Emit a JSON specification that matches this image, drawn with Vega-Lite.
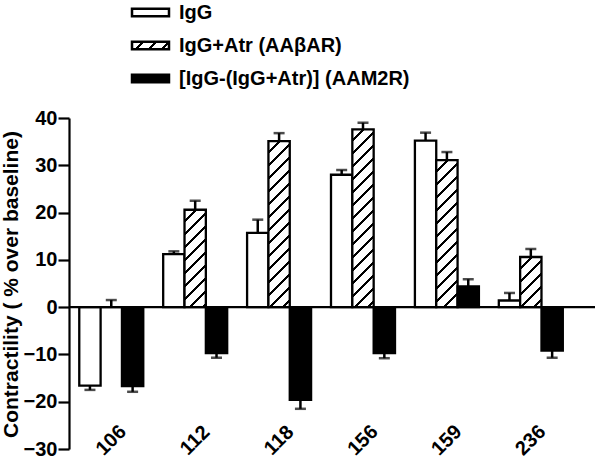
{
  "$schema": "https://vega.github.io/schema/vega-lite/v6.json",
  "autosize": {"type": "none"},
  "padding": {"left": 69, "top": 118, "right": 5, "bottom": 13},
  "width": 526,
  "height": 331,
  "background": "white",
  "params": [
    {"name": "hatch", "value": [
      {"offset": 0, "color": "#fff"},
      {"offset": 0.04875, "color": "#fff"}, {"offset": 0.04875, "color": "#000"}, {"offset": 0.0625, "color": "#000"}, {"offset": 0.0625, "color": "#fff"},
      {"offset": 0.11125, "color": "#fff"}, {"offset": 0.11125, "color": "#000"}, {"offset": 0.125, "color": "#000"}, {"offset": 0.125, "color": "#fff"},
      {"offset": 0.17375, "color": "#fff"}, {"offset": 0.17375, "color": "#000"}, {"offset": 0.1875, "color": "#000"}, {"offset": 0.1875, "color": "#fff"},
      {"offset": 0.23625, "color": "#fff"}, {"offset": 0.23625, "color": "#000"}, {"offset": 0.25, "color": "#000"}, {"offset": 0.25, "color": "#fff"},
      {"offset": 0.29875, "color": "#fff"}, {"offset": 0.29875, "color": "#000"}, {"offset": 0.3125, "color": "#000"}, {"offset": 0.3125, "color": "#fff"},
      {"offset": 0.36125, "color": "#fff"}, {"offset": 0.36125, "color": "#000"}, {"offset": 0.375, "color": "#000"}, {"offset": 0.375, "color": "#fff"},
      {"offset": 0.42375, "color": "#fff"}, {"offset": 0.42375, "color": "#000"}, {"offset": 0.4375, "color": "#000"}, {"offset": 0.4375, "color": "#fff"},
      {"offset": 0.48625, "color": "#fff"}, {"offset": 0.48625, "color": "#000"}, {"offset": 0.5, "color": "#000"}, {"offset": 0.5, "color": "#fff"},
      {"offset": 0.54875, "color": "#fff"}, {"offset": 0.54875, "color": "#000"}, {"offset": 0.5625, "color": "#000"}, {"offset": 0.5625, "color": "#fff"},
      {"offset": 0.61125, "color": "#fff"}, {"offset": 0.61125, "color": "#000"}, {"offset": 0.625, "color": "#000"}, {"offset": 0.625, "color": "#fff"},
      {"offset": 0.67375, "color": "#fff"}, {"offset": 0.67375, "color": "#000"}, {"offset": 0.6875, "color": "#000"}, {"offset": 0.6875, "color": "#fff"},
      {"offset": 0.73625, "color": "#fff"}, {"offset": 0.73625, "color": "#000"}, {"offset": 0.75, "color": "#000"}, {"offset": 0.75, "color": "#fff"},
      {"offset": 0.79875, "color": "#fff"}, {"offset": 0.79875, "color": "#000"}, {"offset": 0.8125, "color": "#000"}, {"offset": 0.8125, "color": "#fff"},
      {"offset": 0.86125, "color": "#fff"}, {"offset": 0.86125, "color": "#000"}, {"offset": 0.875, "color": "#000"}, {"offset": 0.875, "color": "#fff"},
      {"offset": 0.92375, "color": "#fff"}, {"offset": 0.92375, "color": "#000"}, {"offset": 0.9375, "color": "#000"}, {"offset": 0.9375, "color": "#fff"},
      {"offset": 0.98625, "color": "#fff"}, {"offset": 0.98625, "color": "#000"}, {"offset": 1, "color": "#000"}
    ]}
  ],
  "data": {"values": [
    {"group": "106", "series": "IgG", "value": -16.6, "end": -17.5},
    {"group": "106", "series": "IgG+Atr (AAβAR)", "value": 0, "end": 1.5},
    {"group": "106", "series": "[IgG-(IgG+Atr)] (AAM2R)", "value": -16.7, "end": -17.9},
    {"group": "112", "series": "IgG", "value": 11.2, "end": 11.8},
    {"group": "112", "series": "IgG+Atr (AAβAR)", "value": 20.6, "end": 22.5},
    {"group": "112", "series": "[IgG-(IgG+Atr)] (AAM2R)", "value": -9.7, "end": -10.7},
    {"group": "118", "series": "IgG", "value": 15.7, "end": 18.5},
    {"group": "118", "series": "IgG+Atr (AAβAR)", "value": 35.1, "end": 36.8},
    {"group": "118", "series": "[IgG-(IgG+Atr)] (AAM2R)", "value": -19.6, "end": -21.5},
    {"group": "156", "series": "IgG", "value": 28.0, "end": 29.0},
    {"group": "156", "series": "IgG+Atr (AAβAR)", "value": 37.6, "end": 39.0},
    {"group": "156", "series": "[IgG-(IgG+Atr)] (AAM2R)", "value": -9.7, "end": -10.8},
    {"group": "159", "series": "IgG", "value": 35.2, "end": 36.9},
    {"group": "159", "series": "IgG+Atr (AAβAR)", "value": 31.1, "end": 32.8},
    {"group": "159", "series": "[IgG-(IgG+Atr)] (AAM2R)", "value": 4.4, "end": 5.9},
    {"group": "236", "series": "IgG", "value": 1.4, "end": 3.0},
    {"group": "236", "series": "IgG+Atr (AAβAR)", "value": 10.6, "end": 12.3},
    {"group": "236", "series": "[IgG-(IgG+Atr)] (AAM2R)", "value": -9.2, "end": -10.7}
  ]},
  "encoding": {
    "x": {
      "field": "group", "type": "nominal",
      "scale": {"domain": ["106", "112", "118", "156", "159", "236"], "paddingInner": 0.2372, "paddingOuter": 0.253, "align": 0.242},
      "axis": null
    }
  },
  "layer": [
    {
      "mark": {"type": "bar", "stroke": "black", "strokeWidth": 2.3, "opacity": 1},
      "encoding": {
        "xOffset": {
          "field": "series", "type": "nominal",
          "scale": {"domain": ["IgG", "IgG+Atr (AAβAR)", "[IgG-(IgG+Atr)] (AAM2R)"]}
        },
        "y": {
          "field": "value", "type": "quantitative",
          "scale": {"domain": [-30, 40], "nice": false},
          "axis": {
            "title": "Contractility ( % over baseline)",
            "values": [-30, -20, -10, 0, 10, 20, 30, 40],
            "grid": false,
            "domainColor": "black", "domainWidth": 2.2,
            "tickColor": "black", "tickWidth": 2.2, "tickSize": 11,
            "labelPadding": 1, "labelFont": "Liberation Sans", "labelFontSize": 20, "labelFontWeight": "bold", "labelColor": "black",
            "titleFont": "Liberation Sans", "titleFontSize": 21, "titleFontWeight": "bold", "titleColor": "black",
            "titleAngle": -90, "titleBaseline": "alphabetic", "titleAlign": "center", "titleX": -52, "titleY": 166
          }
        },
        "fill": {
          "field": "series", "type": "nominal",
          "scale": {
            "domain": ["IgG", "IgG+Atr (AAβAR)", "[IgG-(IgG+Atr)] (AAM2R)"],
            "range": ["white", {"expr": "{gradient: 'linear', x1: 0, y1: 0, x2: 5.405, y2: 1.081, stops: hatch}"}, "black"]
          },
          "condition": [
            {"test": "datum.series === 'IgG+Atr (AAβAR)' && datum.group === '112'", "value": {"expr": "{gradient: 'linear', x1: 0, y1: 0, x2: 0.4463, y2: 2.038, stops: hatch}"}},
            {"test": "datum.series === 'IgG+Atr (AAβAR)' && datum.group === '118'", "value": {"expr": "{gradient: 'linear', x1: 0, y1: 0, x2: 0.1584, y2: 1.2327, stops: hatch}"}},
            {"test": "datum.series === 'IgG+Atr (AAβAR)' && datum.group === '156'", "value": {"expr": "{gradient: 'linear', x1: 0, y1: 0, x2: 0.1384, y2: 1.1532, stops: hatch}"}},
            {"test": "datum.series === 'IgG+Atr (AAβAR)' && datum.group === '159'", "value": {"expr": "{gradient: 'linear', x1: 0, y1: 0, x2: 0.2008, y2: 1.3849, stops: hatch}"}},
            {"test": "datum.series === 'IgG+Atr (AAβAR)' && datum.group === '236'", "value": {"expr": "{gradient: 'linear', x1: 0, y1: 0, x2: 1.4964, y2: 3.5146, stops: hatch}"}},
            {"test": "datum.series === 'IgG+Atr (AAβAR)'", "value": "white"}
          ],
          "legend": {
            "orient": "none", "legendX": 71, "legendY": -116, "direction": "vertical",
            "title": null,
            "symbolType": "M-2,-0.4H2V0.4H-2Z", "symbolSize": 342,
            "symbolStrokeColor": "black", "symbolStrokeWidth": 2.5, "symbolOpacity": 1,
            "labelFont": "Liberation Sans", "labelFontSize": 20, "labelFontWeight": "bold", "labelColor": "black",
            "labelLimit": 0, "labelOffset": 18, "rowPadding": 12
          }
        }
      }
    },
    {
      "mark": {"type": "rule", "color": "black", "strokeWidth": 2.5},
      "encoding": {
        "xOffset": {"field": "series", "type": "nominal"},
        "y": {"field": "value", "type": "quantitative"},
        "y2": {"field": "end"}
      }
    },
    {
      "mark": {"type": "tick", "color": "black", "size": 11, "thickness": 2.5, "orient": "horizontal"},
      "encoding": {
        "xOffset": {"field": "series", "type": "nominal"},
        "y": {"field": "end", "type": "quantitative"}
      }
    },
    {
      "data": {"values": [{}]},
      "mark": {"type": "rule", "color": "black", "strokeWidth": 2.2},
      "encoding": {"x": null, "y": {"datum": 0}}
    },
    {
      "data": {"values": [{"group": "106"}, {"group": "112"}, {"group": "118"}, {"group": "156"}, {"group": "159"}, {"group": "236"}]},
      "mark": {"type": "text", "angle": -45, "align": "center", "baseline": "middle", "font": "Liberation Sans", "fontSize": 20, "fontWeight": "bold", "color": "black"},
      "encoding": {
        "text": {"field": "group", "type": "nominal"},
        "y": {"datum": -28.2}
      }
    }
  ],
  "config": {
    "font": "Liberation Sans",
    "view": {"stroke": null}
  }
}
